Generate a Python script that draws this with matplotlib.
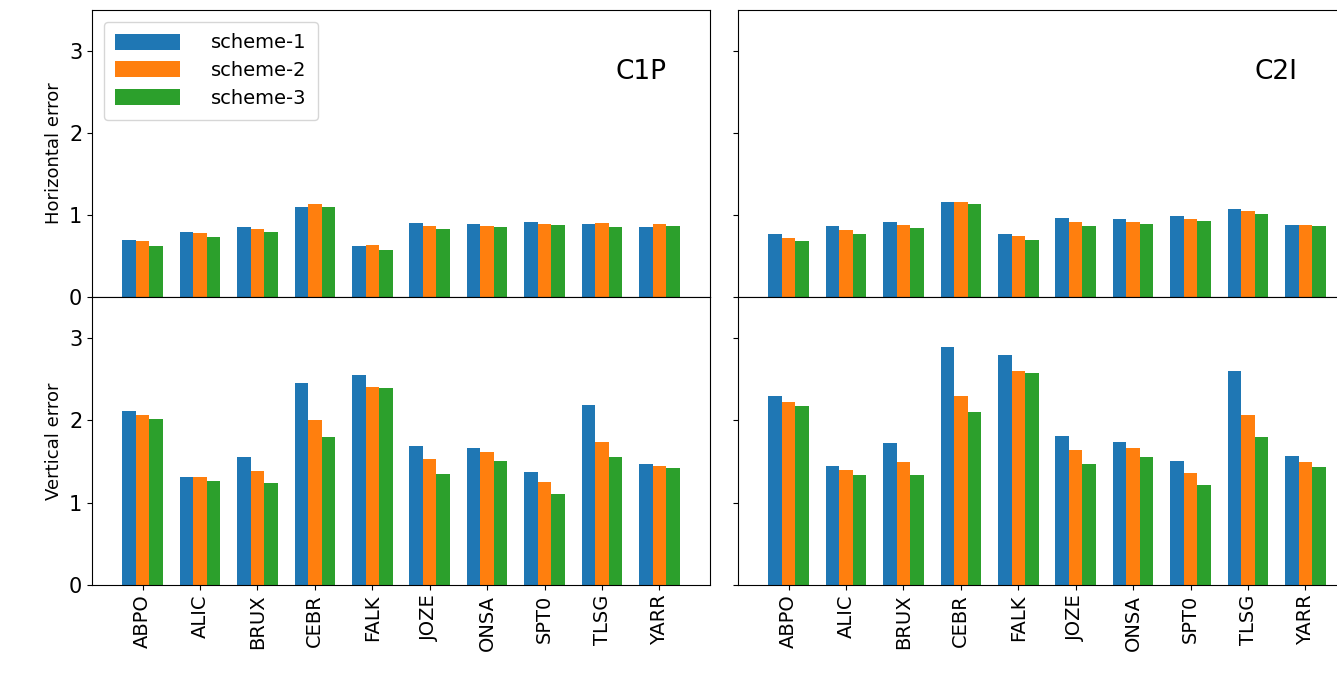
import numpy as np
import matplotlib
matplotlib.use("Agg")
import matplotlib.pyplot as plt

stations = ["ABPO", "ALIC", "BRUX", "CEBR", "FALK", "JOZE", "ONSA", "SPT0", "TLSG", "YARR"]
schemes = ["scheme-1", "scheme-2", "scheme-3"]
colors = ["#1f77b4", "#ff7f0e", "#2ca02c"]

# horizontal error, C1P
h_c1p = [[0.69, 0.79, 0.85, 1.10, 0.62, 0.90, 0.89, 0.91, 0.89, 0.85],
         [0.68, 0.78, 0.83, 1.13, 0.63, 0.87, 0.87, 0.89, 0.90, 0.89],
         [0.62, 0.73, 0.79, 1.10, 0.57, 0.83, 0.85, 0.88, 0.85, 0.86]]
# horizontal error, C2I
h_c2i = [[0.77, 0.86, 0.92, 1.16, 0.77, 0.96, 0.95, 0.99, 1.07, 0.88],
         [0.72, 0.82, 0.88, 1.16, 0.74, 0.91, 0.91, 0.95, 1.05, 0.88],
         [0.68, 0.77, 0.84, 1.14, 0.69, 0.87, 0.89, 0.93, 1.01, 0.86]]
# vertical error, C1P
v_c1p = [[2.12, 1.31, 1.55, 2.46, 2.55, 1.69, 1.67, 1.37, 2.19, 1.47],
         [2.06, 1.31, 1.39, 2.00, 2.41, 1.53, 1.62, 1.25, 1.74, 1.45],
         [2.02, 1.26, 1.24, 1.80, 2.40, 1.35, 1.51, 1.10, 1.55, 1.42]]
# vertical error, C2I
v_c2i = [[2.30, 1.45, 1.72, 2.89, 2.80, 1.81, 1.74, 1.51, 2.60, 1.57],
         [2.23, 1.40, 1.50, 2.30, 2.60, 1.64, 1.67, 1.36, 2.06, 1.49],
         [2.18, 1.34, 1.34, 2.10, 2.58, 1.47, 1.56, 1.22, 1.80, 1.44]]

fig = plt.figure(figsize=(13.37, 6.81), dpi=100)
W, H = 1337, 681
def ax_at(x0, y0, x1, y1):
    return fig.add_axes([x0 / W, 1 - y1 / H, (x1 - x0) / W, (y1 - y0) / H])

axes = [[ax_at(92, 10, 710, 297), ax_at(738, 10, 1356, 297)],
        [ax_at(92, 297, 710, 585), ax_at(738, 297, 1356, 585)]]
data = [[h_c1p, h_c2i], [v_c1p, v_c2i]]

x = np.arange(len(stations))
w = 0.235
for r in range(2):
    for c in range(2):
        ax = axes[r][c]
        for k in range(3):
            ax.bar(x + (k - 1) * w, data[r][c][k], w, color=colors[k], label=schemes[k])
        ax.set_xlim(-0.88, 9.88)
        ax.set_ylim(0, 3.5)
        ax.set_yticks([0, 1, 2, 3])
        ax.tick_params(labelsize=15)
        ax.set_xticks(x)
        if r == 0:
            ax.set_xticklabels([])
            ax.tick_params(axis="x", length=0)
        else:
            ax.set_xticklabels(stations, rotation=90, fontsize=14)
        if c == 1:
            ax.set_yticklabels([])

axes[0][0].set_ylabel("Horizontal error", fontsize=13)
axes[1][0].set_ylabel("Vertical error", fontsize=13)
axes[0][0].text(0.93, 0.76, "C1P", transform=axes[0][0].transAxes, fontsize=19, ha="right")
axes[0][1].text(0.905, 0.76, "C2I", transform=axes[0][1].transAxes, fontsize=19, ha="right")
axes[0][0].legend(loc="upper left", fontsize=14, handlelength=3.3, handleheight=0.9,
                  handletextpad=1.6, borderpad=0.6, labelspacing=0.45,
                  borderaxespad=0.6)

fig.savefig("out.png", dpi=100)
